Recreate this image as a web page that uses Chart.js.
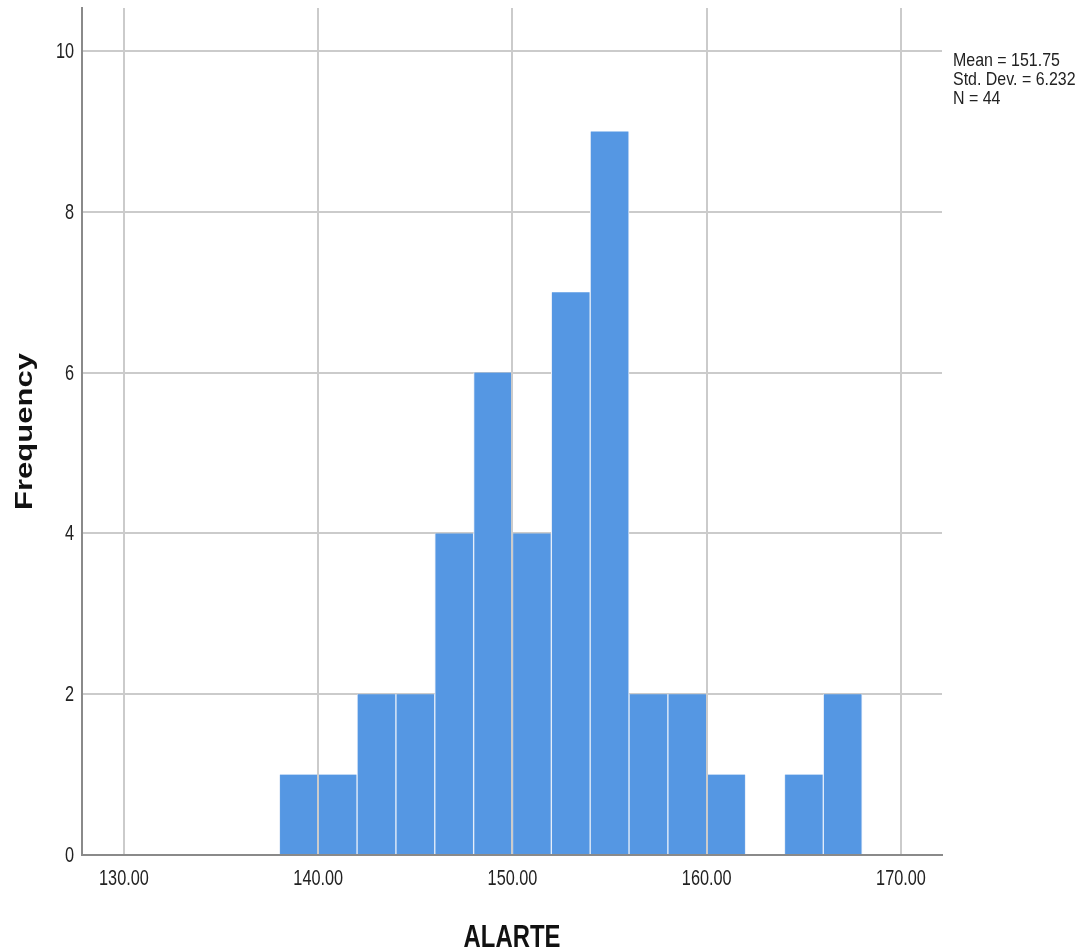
<!DOCTYPE html>
<html>
<head>
<meta charset="utf-8">
<script src="https://cdn.jsdelivr.net/npm/chart.js@4"></script>
<style>
  body { margin: 0; background: #fff; }
  #wrap { width: 1083px; height: 949px; }
</style>
</head>
<body>
<div id="wrap"><canvas id="histChart"></canvas></div>
<script>
// Histogram bins (width 2)
const binStarts = [138, 140, 142, 144, 146, 148, 150, 152, 154, 156, 158, 160, 162, 164, 166];
const counts    = [  1,   1,   2,   2,   4,   6,   4,   7,   9,   2,   2,   1,   0,   1,   2];
const binWidth = 2;
const xTicks = [130, 140, 150, 160, 170];
const yTicks = [0, 2, 4, 6, 8, 10];
const xTitle = 'ALARTE';
const yTitle = 'Frequency';
const statsLines = ['Mean = 151.75', 'Std. Dev. = 6.232', 'N = 44'];

const fontFam = '"Liberation Sans", Arial, sans-serif';

// the reference uses narrow-looking text, so labels are drawn squeezed sideways
function squeezedText(ctx, text, x, y, font, sx, align, rot) {
  ctx.save();
  ctx.translate(x, y);
  ctx.scale(sx, 1);
  if (rot) ctx.rotate(rot);
  ctx.font = font;
  ctx.textAlign = align;
  ctx.fillText(text, 0, 0);
  ctx.restore();
}

const labelPlugin = {
  id: 'labelPlugin',
  afterDraw(chart) {
    const ctx = chart.ctx;
    const xs = chart.scales.x, ys = chart.scales.y;
    ctx.save();
    ctx.fillStyle = '#222';
    ctx.textBaseline = 'middle';
    const tickFont = '22px ' + fontFam;
    xTicks.forEach(v => squeezedText(ctx, v.toFixed(2), xs.getPixelForValue(v), 879, tickFont, 0.74, 'center'));
    yTicks.forEach(v => squeezedText(ctx, String(v), 74, ys.getPixelForValue(v) + 1, tickFont, 0.74, 'right'));

    ctx.fillStyle = '#111';
    ctx.textBaseline = 'alphabetic';
    const titleFont = 'bold 31px ' + fontFam;
    squeezedText(ctx, xTitle, (chart.chartArea.left + chart.chartArea.right) / 2, 947, titleFont, 0.77, 'center');
    squeezedText(ctx, yTitle, 32, (chart.chartArea.top + chart.chartArea.bottom) / 2, titleFont, 0.77, 'center', -Math.PI / 2);

    ctx.fillStyle = '#222';
    statsLines.forEach((t, i) => squeezedText(ctx, t, 953, 66 + i * 19, '19px ' + fontFam, 0.84, 'left'));
    ctx.restore();
  }
};

const ctx = document.getElementById('histChart').getContext('2d');
new Chart(ctx, {
  type: 'bar',
  data: {
    datasets: [{
      label: xTitle,
      data: binStarts.map((s, i) => ({ x: s + binWidth / 2, y: counts[i] })),
      backgroundColor: '#5597e3',
      borderColor: '#e6eef9',
      borderWidth: { left: 1, right: 1, top: 0, bottom: 0 },
      barPercentage: 1,
      categoryPercentage: 1,
      grouped: false
    }]
  },
  options: {
    responsive: true,
    maintainAspectRatio: false,
    animation: false,
    layout: { padding: { top: 8, right: 141, left: 0, bottom: 0 } },
    plugins: {
      legend: { display: false },
      tooltip: { enabled: false }
    },
    scales: {
      x: {
        type: 'linear',
        offset: false,
        min: 127.84,
        max: 172.11,
        afterBuildTicks: axis => { axis.ticks = xTicks.map(v => ({ value: v })); },
        afterFit: s => { s.height = 94; },
        grid: { offset: false, color: '#cbcbcb', lineWidth: 2, drawTicks: false, z: 1 },
        border: { color: '#8a8a8a', width: 2, z: 2 },
        ticks: { display: false }
      },
      y: {
        min: 0,
        max: 10.535,
        afterBuildTicks: axis => { axis.ticks = yTicks.map(v => ({ value: v })); },
        afterFit: s => { s.width = 82; },
        grid: { color: '#cbcbcb', lineWidth: 2, drawTicks: false },
        border: { color: '#8a8a8a', width: 2, z: 2 },
        ticks: { display: false }
      }
    }
  },
  plugins: [labelPlugin]
});
</script>
</body>
</html>
